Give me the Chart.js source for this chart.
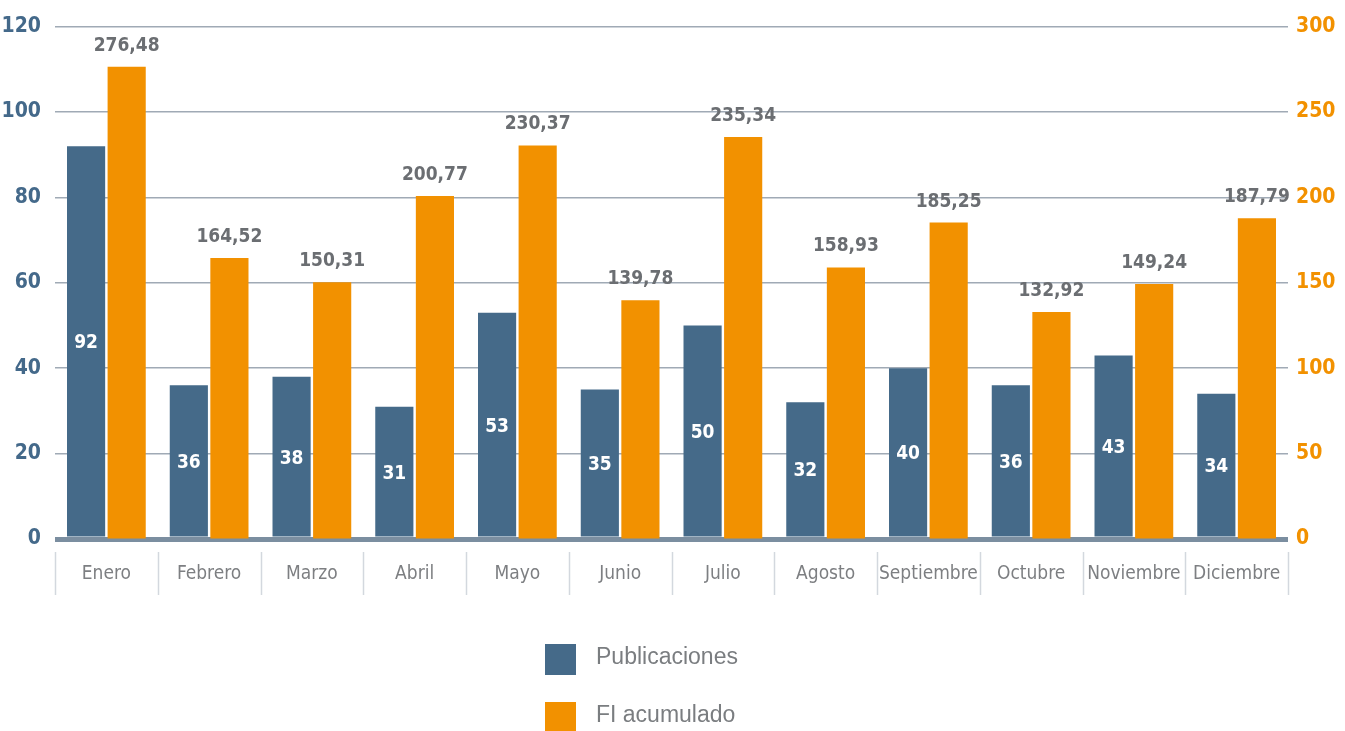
<!DOCTYPE html>
<html>
<head>
<meta charset="utf-8">
<script src="https://cdn.jsdelivr.net/npm/chart.js@4/dist/chart.umd.min.js"></script>
<style>
  html, body { margin: 0; padding: 0; background: #fff; }
  #wrap { position: relative; width: 1345px; height: 731px; }
</style>
</head>
<body>
<div id="wrap"><canvas id="chart" width="1345" height="731"></canvas></div>
<script>
const months = ['Enero', 'Febrero', 'Marzo', 'Abril', 'Mayo', 'Junio', 'Julio', 'Agosto', 'Septiembre', 'Octubre', 'Noviembre', 'Diciembre'];
const publicaciones = [92, 36, 38, 31, 53, 35, 50, 32, 40, 36, 43, 34];
const fiAcumulado = [276.48, 164.52, 150.31, 200.77, 230.37, 139.78, 235.34, 158.93, 185.25, 132.92, 149.24, 187.79];
const leftTicks = [0, 20, 40, 60, 80, 100, 120];
const rightTicks = [0, 50, 100, 150, 200, 250, 300];

const BLUE = '#456a89';
const ORANGE = '#f29100';
const NARROW = '"Liberation Sans Narrow", "DejaVu Sans Condensed", "Roboto Condensed", sans-serif';

const fmt = (v) => v.toFixed(2).replace('.', ',');

// labels on the bars
const barLabels = {
  id: 'barLabels',
  afterDatasetsDraw(chart) {
    const ctx = chart.ctx;
    ctx.save();
    ctx.textAlign = 'center';
    ctx.textBaseline = 'middle';
    ctx.font = 'bold 19px ' + NARROW;
    chart.getDatasetMeta(0).data.forEach((bar, i) => {
      ctx.fillStyle = '#fff';
      ctx.fillText(String(publicaciones[i]), bar.x, (bar.y + bar.base) / 2 + 2);
    });
    chart.getDatasetMeta(1).data.forEach((bar, i) => {
      ctx.fillStyle = '#6b6e72';
      ctx.fillText(fmt(fiAcumulado[i]), bar.x, bar.y - 21);
    });
    ctx.restore();
  }
};

// separators under the axis + legend
const extras = {
  id: 'extras',
  afterDraw(chart) {
    const ctx = chart.ctx;
    const x = chart.scales.x;
    const area = chart.chartArea;
    ctx.save();
    ctx.strokeStyle = '#d3d8de';
    ctx.lineWidth = 1.5;
    const step = (x.right - x.left) / months.length;
    for (let i = 0; i <= months.length; i++) {
      const px = Math.round(x.left + i * step) + 0.5;
      ctx.beginPath();
      ctx.moveTo(px, area.bottom + 13);
      ctx.lineTo(px, area.bottom + 56);
      ctx.stroke();
    }
    // legend
    const items = chart.data.datasets;
    ctx.font = '23px "Liberation Sans", Arial, sans-serif';
    ctx.textBaseline = 'middle';
    ctx.textAlign = 'left';
    items.forEach((ds, i) => {
      const top = 644 + i * 58;
      ctx.fillStyle = ds.backgroundColor;
      ctx.fillRect(545, top, 31, 31);
      ctx.fillStyle = '#7a7d80';
      ctx.fillText(ds.label, 596, top + 14);
    });
    ctx.restore();
  }
};

new Chart(document.getElementById('chart'), {
  type: 'bar',
  data: {
    labels: months,
    datasets: [
      { label: 'Publicaciones', data: publicaciones, backgroundColor: BLUE, yAxisID: 'y', categoryPercentage: 0.79, barPercentage: 0.94 },
      { label: 'FI acumulado', data: fiAcumulado, backgroundColor: ORANGE, yAxisID: 'y1', categoryPercentage: 0.79, barPercentage: 0.94 }
    ]
  },
  options: {
    responsive: false,
    animation: false,
    layout: { padding: { top: 18, left: 2, right: 0, bottom: 0 } },
    plugins: { legend: { display: false }, tooltip: { enabled: false } },
    scales: {
      x: {
        grid: { display: false },
        border: { display: false },
        ticks: { color: '#7d7f82', font: { family: NARROW, size: 19 }, padding: 16, maxRotation: 0, autoSkip: false },
        afterFit(scale) { scale.height = 192; }
      },
      y: {
        position: 'left',
        min: 0, max: 120,
        afterBuildTicks(scale) { scale.ticks = leftTicks.map((v) => ({ value: v })); },
        grid: {
          color: (c) => (c.tick && c.tick.value === 0 ? '#7b8ea0' : '#a0aab5'),
          lineWidth: (c) => (c.tick && c.tick.value === 0 ? 5 : 1.5),
          drawTicks: false
        },
        border: { display: false },
        ticks: { color: '#44698a', font: { family: NARROW, size: 21, weight: 'bold' }, padding: 14 },
        afterFit(scale) { scale.width = 53; }
      },
      y1: {
        position: 'right',
        min: 0, max: 300,
        afterBuildTicks(scale) { scale.ticks = rightTicks.map((v) => ({ value: v })); },
        grid: { drawOnChartArea: false, drawTicks: false },
        border: { display: false },
        ticks: { color: ORANGE, font: { family: NARROW, size: 21, weight: 'bold' }, padding: 8 },
        afterFit(scale) { scale.width = 57; }
      }
    }
  },
  plugins: [barLabels, extras]
});
</script>
</body>
</html>
